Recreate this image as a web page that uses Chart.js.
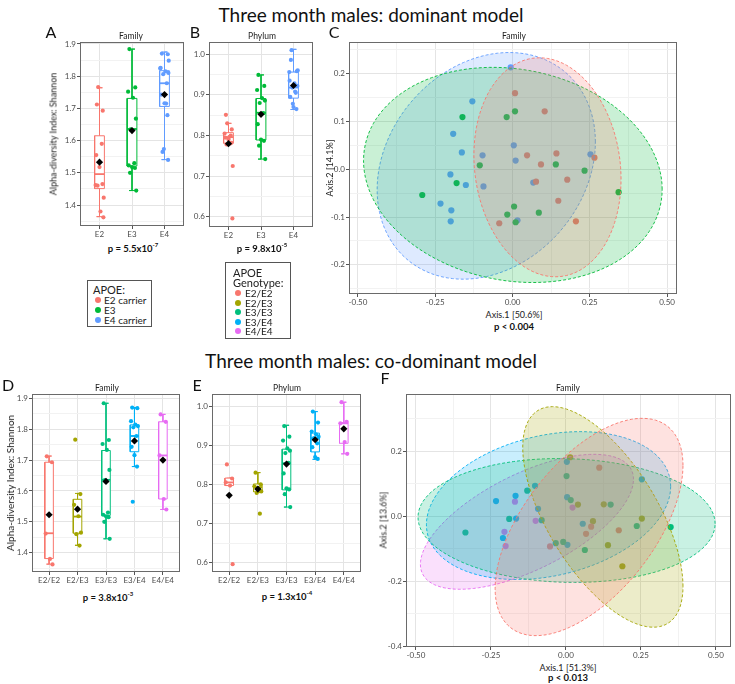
<!DOCTYPE html>
<html>
<head>
<meta charset="utf-8">
<script src="https://cdn.jsdelivr.net/npm/chart.js@4.4.1/dist/chart.umd.min.js"></script>
<style>
  html, body { margin: 0; padding: 0; background: #fff; }
  #page { position: relative; width: 735px; height: 684px; overflow: hidden; font-family: Lato, 'Open Sans', sans-serif; color: #1a1a1a; }
  .lbl { position: absolute; white-space: nowrap; transform: translate(-50%, -50%); line-height: 1; }
  .rot { transform: translate(-50%, -50%) rotate(-90deg); }
  .big { font-size: 19px; color: #111; }
  .letter { font-size: 16px; color: #111; }
  .ptitle { font-size: 8.5px; color: #222; }
  .axt { font-size: 9px; color: #222; }
  .axt2 { font-size: 10px; color: #222; }
  .pval { font-size: 9.5px; font-weight: bold; color: #111; }
  .pval sup { font-size: 6px; vertical-align: top; position: relative; top: -2px; }
  .legend { position: absolute; border: 1px solid #555; background: #fff; box-sizing: border-box; }
  .legend div { position: absolute; white-space: nowrap; line-height: 1; transform: translateY(-50%); color: #222; }
  .legend .dot { width: 6px; height: 6px; border-radius: 50%; transform: translate(-50%, -50%); }
</style>
</head>
<body>
<div id="page"></div>
<script>
// groups and colours
const domGroups = ['E2', 'E3', 'E4'];
const domNames = ['E2 carrier', 'E3', 'E4 carrier'];
const coGroups = ['E2/E2', 'E2/E3', 'E3/E3', 'E3/E4', 'E4/E4'];
const domColors = ['#F8766D', '#00BA38', '#619CFF'];
const coColors = ['#F8766D', '#A3A500', '#00BF7D', '#00B0F6', '#E76BF3'];

// Shannon index, family level, one array per genotype
const shanE2E2 = [1.712, 1.693, 1.462, 1.380, 1.362];
const shanE2E3 = [1.766, 1.590, 1.555, 1.518, 1.465, 1.460, 1.423];
const shanE3E3 = [1.884, 1.765, 1.752, 1.733, 1.668, 1.635, 1.530, 1.523, 1.518, 1.515, 1.500, 1.445];
const shanE3E4 = [1.870, 1.868, 1.826, 1.815, 1.810, 1.806, 1.778, 1.743, 1.716, 1.679, 1.565];
const shanE4E4 = [1.848, 1.824, 1.715, 1.574, 1.540];

// Shannon index, phylum level
const phyE2E2 = [0.851, 0.815, 0.805, 0.797, 0.596];
const phyE2E3 = [0.830, 0.800, 0.795, 0.790, 0.782, 0.778, 0.725];
const phyE3E3 = [0.949, 0.922, 0.912, 0.892, 0.886, 0.880, 0.855, 0.828, 0.790, 0.787, 0.775, 0.742];
const phyE3E4 = [0.986, 0.958, 0.935, 0.928, 0.922, 0.918, 0.905, 0.895, 0.870, 0.865];
const phyE4E4 = [1.010, 0.960, 0.956, 0.908, 0.878];

// box stats: [lower whisker, q1, median, q3, upper whisker, mean]
const shanDomBox = [
  [1.364, 1.451, 1.496, 1.615, 1.764, 1.533],
  [1.445, 1.521, 1.636, 1.731, 1.884, 1.631],
  [1.541, 1.706, 1.778, 1.817, 1.875, 1.743]
];
const phyDomBox = [
  [0.777, 0.781, 0.796, 0.807, 0.830, 0.780],
  [0.742, 0.789, 0.856, 0.891, 0.949, 0.852],
  [0.864, 0.892, 0.918, 0.956, 1.012, 0.923]
];
const shanCoBox = [
  [1.363, 1.381, 1.463, 1.693, 1.713, 1.523],
  [1.424, 1.463, 1.517, 1.573, 1.592, 1.541],
  [1.445, 1.521, 1.636, 1.731, 1.884, 1.631],
  [1.679, 1.727, 1.778, 1.814, 1.870, 1.762],
  [1.540, 1.574, 1.715, 1.824, 1.848, 1.700]
];
const phyCoBox = [
  [0.797, 0.797, 0.805, 0.816, 0.816, 0.772],
  [0.779, 0.781, 0.793, 0.801, 0.830, 0.788],
  [0.742, 0.786, 0.854, 0.890, 0.951, 0.852],
  [0.864, 0.883, 0.918, 0.931, 0.986, 0.914],
  [0.878, 0.905, 0.956, 0.958, 1.010, 0.942]
];

// PCoA coordinates [Axis.1, Axis.2]
const pcDomE2 = [[0.008, 0.159], [0.104, 0.121], [0.047, 0.029], [0.092, 0.010], [0.142, 0.033], [0.076, -0.026],
  [0.177, -0.022], [0.148, -0.066], [0.265, 0.024], [0.205, -0.109], [-0.043, -0.113]];
const pcDomE3 = [[-0.292, -0.054], [-0.162, 0.109], [-0.019, 0.109], [0.008, 0.121], [-0.106, 0.008], [-0.181, -0.029],
  [0.005, -0.078], [-0.017, -0.095], [0.010, -0.111], [0.085, -0.091], [0.140, 0.010], [0.233, -0.003], [0.343, -0.048]];
const pcDomE4 = [[-0.006, 0.213], [-0.130, 0.142], [-0.192, 0.074], [-0.164, 0.035], [-0.097, 0.029], [0.004, 0.050],
  [0.010, 0.018], [-0.201, -0.011], [-0.151, -0.033], [-0.094, -0.036], [-0.233, -0.072], [-0.198, -0.086],
  [-0.200, -0.109], [0.067, -0.028], [0.016, -0.107], [0.252, 0.031]];

const pcCoE2E2 = [[-0.053, -0.093], [0.067, -0.054], [0.111, 0.150], [0.176, -0.043], [0.084, -0.032]];
const pcCoE2E3 = [[0.014, 0.182], [0.040, 0.036], [0.090, -0.015], [0.126, 0.037], [0.188, -0.154], [0.253, -0.007], [0.140, -0.089]];
const pcCoE3E3 = [[-0.335, -0.050], [-0.129, 0.079], [-0.189, -0.008], [-0.081, -0.012], [-0.034, -0.083], [-0.009, -0.079],
  [0.002, 0.124], [0.016, 0.050], [0.063, -0.104], [0.149, 0.036], [0.236, -0.030], [0.349, -0.033]];
const pcCoE3E4 = [[-0.233, 0.047], [-0.168, 0.063], [-0.103, 0.094], [-0.093, 0.023], [-0.166, -0.007], [-0.210, -0.067],
  [0.005, -0.088], [0.003, 0.168], [0.004, 0.059], [0.056, -0.023], [0.253, 0.114]];
const pcCoE4E4 = [[-0.170, 0.045], [-0.101, -0.014], [-0.205, -0.048], [-0.201, -0.092], [0.022, 0.027]];

// 95% ellipses: [centre x, centre y, half width, y offset at widest x, half height]
const ellDom = [
  [0.113, 0.004, 0.238, -0.025, 0.229],
  [0.001, -0.012, 0.483, -0.030, 0.225],
  [-0.085, 0.007, 0.353, 0.050, 0.237]
];
const ellCo = [
  [0.077, -0.033, 0.313, 0.190, 0.335],
  [0.123, -0.002, 0.267, -0.214, 0.340],
  [0.002, -0.013, 0.495, -0.010, 0.191],
  [-0.058, 0.033, 0.407, 0.059, 0.228],
  [-0.130, -0.017, 0.355, 0.131, 0.208]
];

// tick values
const shanTicks = [1.4, 1.5, 1.6, 1.7, 1.8, 1.9];
const shanMinor = [1.35, 1.45, 1.55, 1.65, 1.75, 1.85];
const phyTicks = [0.6, 0.7, 0.8, 0.9, 1.0];
const phyMinor = [0.65, 0.75, 0.85, 0.95];
const pcXTicks = [-0.5, -0.25, 0, 0.25, 0.5];
const pcXMinor = [-0.375, -0.125, 0.125, 0.375];
const pcDomYTicks = [-0.2, -0.1, 0, 0.1, 0.2];
const pcDomYMinor = [-0.25, -0.15, -0.05, 0.05, 0.15, 0.25];
const pcCoYTicks = [-0.4, -0.2, 0, 0.2];
const pcCoYMinor = [-0.3, -0.1, 0.1, 0.3];

// horizontal jitter pattern for the dots
const jit = [-0.08, 0.10, -0.12, 0.03, 0.12, -0.04, 0.07, -0.10, 0.0, 0.09, -0.06, 0.13, -0.13, 0.05, -0.02, 0.11];

const page = document.getElementById('page');

const framePlugin = {
  id: 'frame',
  afterDraw(chart) {
    const a = chart.chartArea, ctx = chart.ctx;
    ctx.save();
    ctx.strokeStyle = '#6a6a6a';
    ctx.lineWidth = 1;
    ctx.strokeRect(a.left + 0.5, a.top + 0.5, a.right - a.left - 1, a.bottom - a.top - 1);
    ctx.restore();
  }
};

const PT = 8, PR = 2;

function mount(rect, yw, xh) {
  const [L, T, R, B] = rect;
  const div = document.createElement('div');
  div.style.cssText = `position:absolute;left:${L - yw}px;top:${T - PT}px;width:${R - L + yw + PR}px;height:${B - T + PT + xh}px`;
  const cv = document.createElement('canvas');
  div.appendChild(cv);
  page.appendChild(div);
  return cv;
}

function axis(min, max, major, minor, fmt, fit) {
  const all = major.concat(minor).sort((a, b) => a - b);
  const isMajor = c => c.tick && major.includes(c.tick.value);
  return {
    type: 'linear', min, max,
    afterBuildTicks: ax => { ax.ticks = all.map(v => ({ value: v })); },
    afterFit: fit,
    ticks: {
      autoSkip: false, maxRotation: 0, minRotation: 0, padding: 1, color: '#4d4d4d',
      font: { family: 'Lato', size: 8 },
      callback: v => major.includes(v) ? fmt(v) : ''
    },
    grid: {
      color: c => isMajor(c) ? '#e4e4e4' : '#f2f2f2',
      tickLength: 3,
      tickColor: c => isMajor(c) ? '#555' : 'rgba(0,0,0,0)'
    },
    border: { display: false }
  };
}

function baseOptions(xs, ys) {
  return {
    animation: false, responsive: true, maintainAspectRatio: false, events: [],
    layout: { padding: { top: PT, right: PR, left: 0, bottom: 0 } },
    plugins: { legend: { display: false }, tooltip: { enabled: false } },
    scales: { x: xs, y: ys }
  };
}

function boxPanel(rect, groups, colors, stats, points, yMin, yMax, yMajor, yMinor) {
  const yw = 24, xh = 14, bw = 0.15, cw = 0.09;
  const datasets = [];
  stats.forEach((s, i) => {
    const [lo, q1, med, q3, hi] = s;
    const x = i + 1, c = colors[i];
    datasets.push({ type: 'line', order: 5, data: [{ x: x - cw, y: hi }, { x: x + cw, y: hi }, { x: x, y: hi }, { x: x, y: lo }, { x: x - cw, y: lo }, { x: x + cw, y: lo }],
      borderColor: c, borderWidth: 1, pointRadius: 0, fill: false, tension: 0 });
    datasets.push({ type: 'line', order: 4, data: [{ x: x - bw, y: q1 }, { x: x + bw, y: q1 }, { x: x + bw, y: q3 }, { x: x - bw, y: q3 }, { x: x - bw, y: q1 }],
      borderColor: c, borderWidth: 1, backgroundColor: '#ffffff', fill: 'shape', pointRadius: 0, tension: 0 });
    datasets.push({ type: 'line', order: 3, data: [{ x: x - bw, y: med }, { x: x + bw, y: med }],
      borderColor: c, borderWidth: 1.8, pointRadius: 0, fill: false });
    datasets.push({ type: 'scatter', order: 2, data: points[i].map((v, k) => ({ x: x + jit[k % jit.length], y: v })),
      backgroundColor: c, borderWidth: 0, pointRadius: 2.1 });
  });
  datasets.push({ type: 'scatter', order: 1, data: stats.map((s, i) => ({ x: i + 1, y: s[5] })),
    pointStyle: 'rectRot', pointRadius: 3.6, backgroundColor: '#000', borderColor: '#000', borderWidth: 0 });

  const xs = axis(0.4, groups.length + 0.6, groups.map((g, i) => i + 1), [], v => groups[v - 1], ax => { ax.height = xh; });
  const ys = axis(yMin, yMax, yMajor, yMinor, v => v.toFixed(1), ax => { ax.width = yw; });
  new Chart(mount(rect, yw, xh), { type: 'scatter', data: { datasets }, options: baseOptions(xs, ys), plugins: [framePlugin] });
}

function ellipsePoints(e) {
  const [cx, cy, a, c, h] = e;
  const d = Math.sqrt(h * h - c * c);
  const out = [];
  for (let k = 0; k <= 120; k++) {
    const t = k / 120 * 2 * Math.PI;
    out.push({ x: cx + a * Math.cos(t), y: cy + c * Math.cos(t) + d * Math.sin(t) });
  }
  return out;
}

function pcoaPanel(rect, colors, groupsPts, ells, xMin, xMax, yMin, yMax, yMajor, yMinor) {
  const yw = 22, xh = 14;
  const datasets = [];
  ells.forEach((e, i) => {
    datasets.push({ type: 'line', order: 1, data: ellipsePoints(e), borderColor: colors[i], borderWidth: 0.9,
      borderDash: [3, 2], backgroundColor: colors[i] + '36', fill: 'shape', pointRadius: 0, tension: 0 });
  });
  groupsPts.forEach((pts, i) => {
    datasets.push({ type: 'scatter', order: 2, data: pts.map(p => ({ x: p[0], y: p[1] })),
      backgroundColor: colors[i], borderWidth: 0, pointRadius: 3.1 });
  });
  const xs = axis(xMin, xMax, pcXTicks, pcXMinor, v => v.toFixed(2), ax => { ax.height = xh; });
  const ys = axis(yMin, yMax, yMajor, yMinor, v => v.toFixed(1), ax => { ax.width = yw; });
  new Chart(mount(rect, yw, xh), { type: 'scatter', data: { datasets }, options: baseOptions(xs, ys), plugins: [framePlugin] });
}

function text(str, x, y, cls, html) {
  const d = document.createElement('div');
  d.className = 'lbl ' + cls;
  d.style.left = x + 'px';
  d.style.top = y + 'px';
  if (html) d.innerHTML = str; else d.textContent = str;
  page.appendChild(d);
}

function legend(box, titles, titleY, names, colors, rowY, rowH, dotX, textX) {
  const [x, y, w, h] = box;
  const lg = document.createElement('div');
  lg.className = 'legend';
  lg.style.cssText = `left:${x}px;top:${y}px;width:${w}px;height:${h}px`;
  titles.forEach((t, i) => {
    const d = document.createElement('div');
    d.textContent = t;
    d.style.cssText = `left:${dotX - 5}px;top:${titleY + i * 10}px;font-size:11px`;
    lg.appendChild(d);
  });
  names.forEach((n, i) => {
    const dot = document.createElement('div');
    dot.className = 'dot';
    dot.style.cssText = `left:${dotX}px;top:${rowY + i * rowH}px;background:${colors[i]}`;
    lg.appendChild(dot);
    const d = document.createElement('div');
    d.textContent = n;
    d.style.cssText = `left:${textX}px;top:${rowY + i * rowH}px;font-size:10px`;
    lg.appendChild(d);
  });
  page.appendChild(lg);
}

// ---- top row: dominant model ----
boxPanel([80, 42, 186, 226], domGroups, domColors, shanDomBox,
  [shanE2E2.concat(shanE2E3), shanE3E3, shanE3E4.concat(shanE4E4)], 1.335, 1.906, shanTicks, shanMinor);
boxPanel([209, 42, 315, 227], domGroups, domColors, phyDomBox,
  [phyE2E2.concat(phyE2E3), phyE3E3, phyE3E4.concat(phyE4E4)], 0.575, 1.030, phyTicks, phyMinor);
pcoaPanel([349, 42, 679, 294], domColors, [pcDomE2, pcDomE3, pcDomE4], ellDom, -0.529, 0.532, -0.261, 0.266, pcDomYTicks, pcDomYMinor);

// ---- bottom row: co-dominant model ----
boxPanel([32, 394, 182, 572], coGroups, coColors, shanCoBox,
  [shanE2E2, shanE2E3, shanE3E3, shanE3E4, shanE4E4], 1.3375, 1.914, shanTicks, shanMinor);
boxPanel([212, 394, 363, 572], coGroups, coColors, phyCoBox,
  [phyE2E2, phyE2E3, phyE3E3, phyE3E4, phyE4E4], 0.576, 1.031, phyTicks, phyMinor);
pcoaPanel([406, 394, 733, 647], coColors, [pcCoE2E2, pcCoE2E3, pcCoE3E3, pcCoE3E4, pcCoE4E4], ellCo, -0.533, 0.550, -0.403, 0.377, pcCoYTicks, pcCoYMinor);

// ---- text ----
text('Three month males: dominant model', 371, 14, 'big');
text('Three month males: co-dominant model', 371, 360, 'big');
text('A', 51, 32, 'letter'); text('B', 195, 32, 'letter'); text('C', 334, 32, 'letter');
text('D', 8, 385, 'letter'); text('E', 197, 385, 'letter'); text('F', 385, 378, 'letter');

text('Family', 131, 36, 'ptitle'); text('Phylum', 262, 36, 'ptitle'); text('Family', 514, 36, 'ptitle');
text('Family', 107, 388, 'ptitle'); text('Phylum', 287, 388, 'ptitle'); text('Family', 568, 388, 'ptitle');

text('Alpha-diversity Index: Shannon', 53, 134, 'axt rot');
text('Alpha-diversity Index: Shannon', 10, 483, 'axt2 rot');
text('Axis.2 [14.1%]', 329, 168, 'axt rot');
text('Axis.2 [13.6%]', 383, 520, 'axt rot');
text('Axis.1 [50.6%]', 514, 314, 'axt');
text('Axis.1 [51.3%]', 568, 667, 'axt');

text('p = 5.5x10<sup>-7</sup>', 133, 249, 'pval', true);
text('p = 9.8x10<sup>-5</sup>', 262, 249, 'pval', true);
text('p &lt; 0.004', 514, 327, 'pval', true);
text('p = 3.8x10<sup>-3</sup>', 108, 598, 'pval', true);
text('p = 1.3x10<sup>-4</sup>', 287, 597, 'pval', true);
text('p &lt; 0.013', 568, 678, 'pval', true);

legend([87, 280, 65, 47], ['APOE:'], 8, domNames, domColors, 19, 9.8, 10, 16);
legend([225, 262, 66, 77], ['APOE', 'Genotype:'], 9, coGroups, coColors, 30, 9.6, 12, 19);
</script>
</body>
</html>
